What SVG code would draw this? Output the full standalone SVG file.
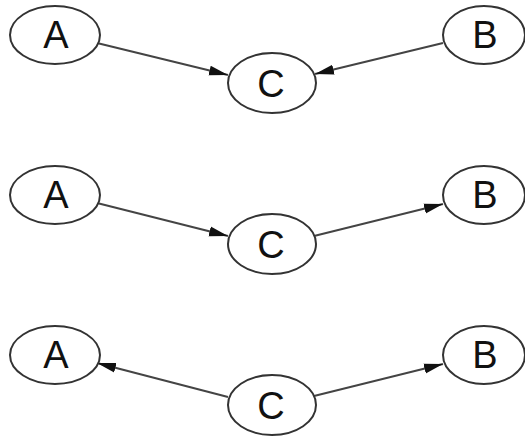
<svg xmlns="http://www.w3.org/2000/svg" width="525" height="439" viewBox="0 0 525 439">
<style>
.node ellipse{fill:#fff;stroke:#333;stroke-width:2}
.node text{font-family:"Liberation Sans",Arial,sans-serif;font-size:38px;fill:#111;text-anchor:middle}
.edge{stroke:#444;stroke-width:2;fill:none;marker-end:url(#arr)}
</style>
<defs>
<marker id="arr" markerUnits="userSpaceOnUse" markerWidth="20" markerHeight="12" refX="19" refY="6" orient="auto">
<path d="M0,1 L19,6 L0,11 Z" fill="#111"/>
</marker>
</defs>
<rect width="525" height="439" fill="#fff"/>
<g id="connectors">
<line class="edge" x1="97" y1="43" x2="228" y2="75"/>
<line class="edge" x1="443" y1="43" x2="315" y2="74"/>
<line class="edge" x1="97" y1="203" x2="228" y2="236"/>
<line class="edge" x1="314" y1="236" x2="443" y2="204"/>
<line class="edge" x1="228" y1="397" x2="97" y2="363"/>
<line class="edge" x1="314" y1="396" x2="443" y2="364"/>
</g>
<g id="A1" class="node"><ellipse cx="55" cy="35" rx="45" ry="29"/><text x="56" y="48">A</text></g>
<g id="B1" class="node"><ellipse cx="484" cy="35" rx="41" ry="29"/><text x="485" y="48">B</text></g>
<g id="C1" class="node"><ellipse cx="272" cy="83" rx="44" ry="30"/><text x="271" y="97">C</text></g>
<g id="A2" class="node"><ellipse cx="55" cy="195" rx="45" ry="29"/><text x="56" y="208">A</text></g>
<g id="B2" class="node"><ellipse cx="484" cy="195" rx="41" ry="29"/><text x="485" y="208">B</text></g>
<g id="C2" class="node"><ellipse cx="272" cy="244" rx="44" ry="30"/><text x="271" y="258">C</text></g>
<g id="A3" class="node"><ellipse cx="55" cy="355" rx="45" ry="29"/><text x="56" y="368">A</text></g>
<g id="B3" class="node"><ellipse cx="484" cy="355" rx="41" ry="29"/><text x="485" y="368">B</text></g>
<g id="C3" class="node"><ellipse cx="272" cy="405" rx="44" ry="30"/><text x="271" y="419">C</text></g>
</svg>
